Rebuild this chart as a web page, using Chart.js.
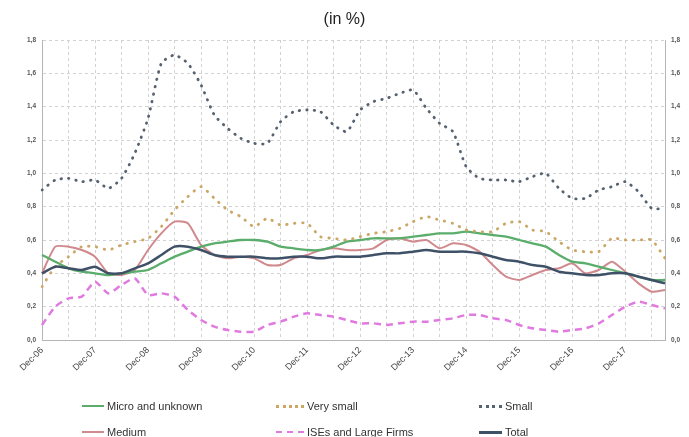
<!DOCTYPE html>
<html>
<head>
<meta charset="utf-8">
<script src="https://cdn.jsdelivr.net/npm/chart.js@4"></script>
<style>
  body { margin: 0; background: #fff; font-family: "Liberation Sans", Arial, sans-serif; }
  #wrap { position: relative; width: 689px; height: 437px; }
  #legend .item { position: absolute; font-size: 11px; color: #333; line-height: 14px; white-space: nowrap; }
  #legend .swatch { position: absolute; top: 6px; height: 0; }
</style>
</head>
<body>
<div id="wrap">
  <canvas id="chart" width="689" height="437"></canvas>
  <div id="legend"></div>
</div>
<script>
window.addEventListener("load", init);

// quarterly points, Dec-06 .. Sep-18
const labels = [
  "Dec-06", "Mar-07", "Jun-07", "Sep-07", "Dec-07", "Mar-08", "Jun-08", "Sep-08",
  "Dec-08", "Mar-09", "Jun-09", "Sep-09", "Dec-09", "Mar-10", "Jun-10", "Sep-10",
  "Dec-10", "Mar-11", "Jun-11", "Sep-11", "Dec-11", "Mar-12", "Jun-12", "Sep-12",
  "Dec-12", "Mar-13", "Jun-13", "Sep-13", "Dec-13", "Mar-14", "Jun-14", "Sep-14",
  "Dec-14", "Mar-15", "Jun-15", "Sep-15", "Dec-15", "Mar-16", "Jun-16", "Sep-16",
  "Dec-16", "Mar-17", "Jun-17", "Sep-17", "Dec-17", "Mar-18", "Jun-18", "Sep-18"
];

const micro = [
  0.51, 0.47, 0.43, 0.41, 0.40, 0.39, 0.40, 0.41, 0.42, 0.46, 0.50, 0.53,
  0.56, 0.58, 0.59, 0.60, 0.60, 0.59, 0.56, 0.55, 0.54, 0.54, 0.56, 0.59,
  0.60, 0.61, 0.61, 0.61, 0.62, 0.63, 0.64, 0.64, 0.65, 0.64, 0.63, 0.62,
  0.60, 0.58, 0.56, 0.51, 0.47, 0.46, 0.44, 0.42, 0.40, 0.38, 0.36, 0.36
];
const verySmall = [
  0.32, 0.44, 0.50, 0.56, 0.56, 0.54, 0.57, 0.59, 0.61, 0.68, 0.78, 0.86,
  0.92, 0.85, 0.78, 0.74, 0.68, 0.73, 0.69, 0.70, 0.70, 0.62, 0.61, 0.60,
  0.62, 0.64, 0.65, 0.67, 0.71, 0.74, 0.72, 0.70, 0.66, 0.65, 0.65, 0.70,
  0.71, 0.66, 0.65, 0.59, 0.54, 0.53, 0.53, 0.61, 0.60, 0.60, 0.60, 0.49
];
const small = [
  0.90, 0.96, 0.97, 0.95, 0.96, 0.91, 0.97, 1.12, 1.33, 1.66, 1.71, 1.66,
  1.53, 1.35, 1.27, 1.21, 1.18, 1.18, 1.31, 1.37, 1.38, 1.37, 1.29, 1.25,
  1.38, 1.43, 1.45, 1.48, 1.50, 1.39, 1.30, 1.25, 1.04, 0.97, 0.96, 0.96,
  0.95, 0.98, 1.00, 0.91, 0.85, 0.85, 0.90, 0.92, 0.95, 0.89, 0.79, 0.79
];
const medium = [
  0.40, 0.56, 0.56, 0.54, 0.50, 0.40, 0.39, 0.42, 0.54, 0.64, 0.71, 0.70,
  0.57, 0.51, 0.49, 0.50, 0.49, 0.45, 0.45, 0.49, 0.51, 0.54, 0.55, 0.54,
  0.54, 0.55, 0.60, 0.61, 0.59, 0.60, 0.55, 0.58, 0.57, 0.53, 0.45, 0.38,
  0.36, 0.39, 0.42, 0.43, 0.46, 0.40, 0.42, 0.47, 0.41, 0.34, 0.29, 0.30
];
const large = [
  0.09, 0.20, 0.25, 0.26, 0.35, 0.28, 0.33, 0.37, 0.27, 0.28, 0.26, 0.18,
  0.12, 0.08, 0.06, 0.05, 0.05, 0.09, 0.11, 0.14, 0.16, 0.15, 0.14, 0.12,
  0.10, 0.10, 0.09, 0.10, 0.11, 0.11, 0.12, 0.13, 0.15, 0.15, 0.13, 0.12,
  0.09, 0.07, 0.06, 0.05, 0.06, 0.07, 0.10, 0.15, 0.20, 0.23, 0.21, 0.19
];
const total = [
  0.40, 0.44, 0.43, 0.42, 0.44, 0.40, 0.40, 0.43, 0.46, 0.51, 0.56, 0.56,
  0.54, 0.51, 0.50, 0.50, 0.50, 0.49, 0.49, 0.50, 0.50, 0.49, 0.50, 0.50,
  0.50, 0.51, 0.52, 0.52, 0.53, 0.54, 0.53, 0.53, 0.53, 0.52, 0.50, 0.48,
  0.47, 0.45, 0.44, 0.41, 0.40, 0.39, 0.39, 0.40, 0.40, 0.38, 0.36, 0.34
];

const series = [
  { name: "Micro and unknown", data: micro, color: "#5aad6b", width: 2.3, dash: [], order: 3, col: 0, row: 0, css: "2px solid" },
  { name: "Very small", data: verySmall, color: "#cba766", width: 2.8, dash: [0.5, 7.5], order: 2, col: 1, row: 0, css: "3px dotted" },
  { name: "Small", data: small, color: "#56626f", width: 2.8, dash: [0.5, 7], order: 1, col: 2, row: 0, css: "3px dotted" },
  { name: "Medium", data: medium, color: "#d08a8e", width: 2, dash: [], order: 4, col: 0, row: 1, css: "2px solid" },
  { name: "ISEs and Large Firms", data: large, color: "#e07ae0", width: 2.5, dash: [7, 5], order: 5, col: 1, row: 1, css: "2px dashed" },
  { name: "Total", data: total, color: "#3e5166", width: 2.5, dash: [], order: 0, col: 2, row: 1, css: "3px solid" }
];

function init() {
  drawChart();
  drawLegend();
}

function fmt(v) {
  return v.toFixed(1).replace(".", ",");
}

function drawChart() {
  let ctx = qs("#chart").getContext("2d");

  let datasets = series.map(s => ({
    label: s.name,
    data: s.data,
    borderColor: s.color,
    backgroundColor: s.color,
    borderWidth: s.width,
    borderDash: s.dash,
    borderCapStyle: s.dash.length && s.dash[0] < 1 ? "round" : "butt",
    pointRadius: 0,
    tension: 0.2,
    fill: false,
    order: s.order,
    yAxisID: "y"
  }));

  let yTicks = { stepSize: 0.2, callback: fmt, color: "#555", font: { size: 6.5, weight: "bold" }, padding: 6 };

  new Chart(ctx, {
    type: "line",
    data: { labels: labels, datasets: datasets },
    options: {
      responsive: false,
      animation: false,
      layout: { padding: 0 },
      plugins: {
        legend: { display: false },
        tooltip: { enabled: false },
        title: {
          display: true,
          text: "(in %)",
          color: "#222",
          font: { size: 16, weight: "normal", family: "'Liberation Sans', Arial, sans-serif" },
          padding: { top: 10, bottom: 10.8 }
        }
      },
      scales: {
        x: {
          type: "category",
          offset: false,
          grid: {
            color: c => (c.index % 2 === 0 ? "#d2d2d2" : "rgba(0,0,0,0)"),
            drawTicks: false
          },
          border: { color: "#b5b5b5", dash: [3, 3] },
          ticks: {
            autoSkip: false,
            maxRotation: 45,
            minRotation: 45,
            padding: 5,
            color: "#444",
            font: { size: 9 },
            callback: (v, i) => (i % 4 === 0 ? labels[i] : "")
          },
          afterFit: scale => { scale.height = 97; }
        },
        y: {
          position: "left",
          min: 0,
          max: 1.8,
          grid: { color: "#d2d2d2", drawTicks: false },
          border: { color: "#b5b5b5", dash: [3, 3] },
          ticks: yTicks,
          afterFit: scale => { scale.width = 42; }
        },
        y2: {
          position: "right",
          min: 0,
          max: 1.8,
          grid: { display: false, drawTicks: false },
          border: { color: "#b5b5b5" },
          ticks: yTicks,
          afterFit: scale => { scale.width = 24; }
        }
      }
    }
  });
}

function drawLegend() {
  let colX = [[82, 107], [276, 307], [479, 505]];
  let rowY = [399, 425];
  let legend = qs("#legend");
  series.forEach(s => {
    let item = document.createElement("div");
    item.className = "item";
    item.style.left = colX[s.col][0] + "px";
    item.style.top = rowY[s.row] + "px";
    item.style.paddingLeft = (colX[s.col][1] - colX[s.col][0]) + "px";
    let sw = document.createElement("div");
    sw.className = "swatch";
    sw.style.left = "0px";
    sw.style.width = (colX[s.col][1] - colX[s.col][0] - 3) + "px";
    sw.style.borderTop = s.css + " " + s.color;
    item.appendChild(sw);
    item.appendChild(document.createTextNode(s.name));
    legend.appendChild(item);
  });
}

function qs(selector) {
  return document.querySelector(selector);
}
</script>
</body>
</html>
